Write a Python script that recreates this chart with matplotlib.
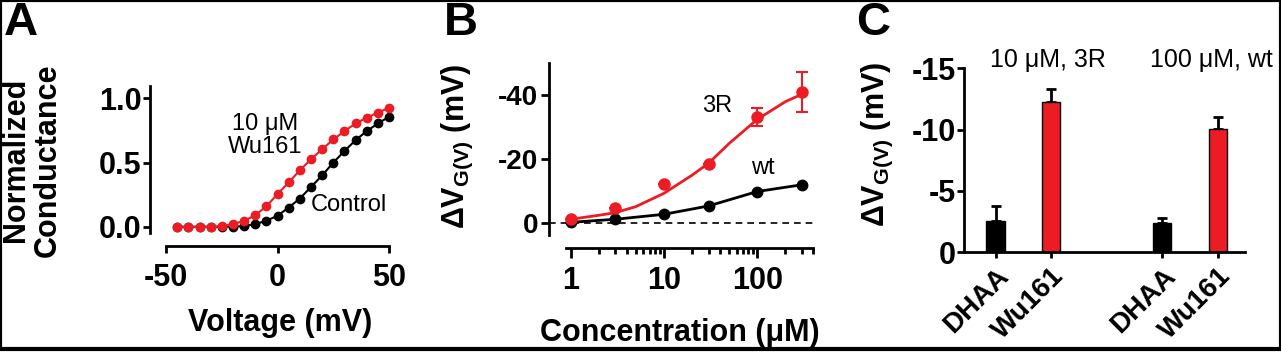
import numpy as np
import matplotlib.pyplot as plt
from matplotlib.patches import Rectangle
from matplotlib.ticker import NullFormatter

plt.rcParams['font.family'] = ['Liberation Sans', 'DejaVu Sans']
plt.rcParams['font.weight'] = 'bold'
plt.rcParams['axes.unicode_minus'] = False
plt.rcParams['mathtext.default'] = 'regular'

RED = '#ec1c24'

# panel A: normalized conductance vs voltage
voltage = np.arange(-45, 51, 5)
g_control = [0, 0, 0, 0, 0, 0, 0.005, 0.02, 0.047, 0.086, 0.15, 0.22, 0.31,
             0.40, 0.50, 0.59, 0.675, 0.745, 0.805, 0.857]
g_wu161 = [0, 0, 0, 0, 0.005, 0.02, 0.047, 0.09, 0.16, 0.255, 0.345, 0.44,
           0.525, 0.605, 0.68, 0.745, 0.805, 0.85, 0.89, 0.927]

# panel B: dose response
conc = [1, 3, 10, 30, 100, 300]
dv_3r = [-1.35, -4.9, -12.3, -18.4, -33.2, -41.0]
dv_3r_err = [0, 0, 0, 0, 2.8, 6.2]
dv_wt = [-0.3, -1.25, -2.8, -5.4, -9.9, -12.0]
conc_fit = [1, 2, 3, 5, 10, 20, 30, 50, 100, 200, 300]
fit_3r = [-1.25, -2.5, -3.3, -5.2, -9.35, -15.0, -18.7, -24.9, -32.4, -37.9, -40.2]

# panel C: bar chart
bar_labels = ['DHAA', 'Wu161', 'DHAA', 'Wu161']
bar_pos = [0, 1, 3, 4]
bar_vals = [-2.55, -12.28, -2.36, -10.03]
bar_err = [1.22, 1.0, 0.42, 1.03]
bar_colors = ['black', RED, 'black', RED]
group_titles = ['10 \u03bcM, 3R', '100 \u03bcM, wt']

W, H = 1281, 352
fig = plt.figure(figsize=(W / 100, H / 100), dpi=100)


def box(l, t, r, b):
    return [l / W, 1 - b / H, (r - l) / W, (b - t) / H]


def ftext(x, y, s, **kw):
    fig.text(x / W, 1 - y / H, s, ha='center', va='center', **kw)


def style(ax):
    for s in ['top', 'right']:
        ax.spines[s].set_visible(False)
    for s in ['left', 'bottom']:
        ax.spines[s].set_linewidth(2)


# ---- A ----
axA = fig.add_axes(box(150, 85.6, 393.5, 246))
style(axA)
axA.plot(voltage, g_control, '-o', color='black', ms=6, lw=1.5)
axA.plot(voltage, g_wu161, '-o', color=RED, ms=6, lw=1.5)
axA.set_xlim(-57.2, 52)
axA.set_ylim(-0.15, 1.1)
axA.spines['left'].set_bounds(-0.05, 1.1)
axA.spines['bottom'].set_bounds(-50, 50)
axA.set_xticks([-50, 0, 50])
axA.set_yticks([0, 0.5, 1.0])
axA.set_yticklabels(['0.0', '0.5', '1.0'])
axA.tick_params(axis='y', width=2, length=5, labelsize=22, pad=1)
axA.tick_params(axis='x', width=2, length=5, labelsize=22, pad=7)
axA.text(-5.6, 0.71, '10 \u03bcM\nWu161', fontsize=17, fontweight='normal',
         ha='center', va='center', linespacing=1.1)
axA.text(32, 0.17, 'Control', fontsize=17, fontweight='normal',
         ha='center', va='center')

ftext(280, 323, 'Voltage (mV)', fontsize=22)
ftext(32, 160, 'Normalized\nConductance', fontsize=22, rotation=90, linespacing=1.1)

# ---- B ----
axB = fig.add_axes(box(549, 61.2, 813.5, 248))
style(axB)
axB.set_xscale('log')
axB.axhline(0, color='black', lw=1.2, ls=(0, (4, 3)))
axB.plot(conc_fit, fit_3r, '-', color=RED, lw=2)
axB.errorbar(conc, dv_3r, yerr=dv_3r_err, fmt='o', color=RED, ms=8,
             capsize=4.5, elinewidth=1.5, capthick=1.5)
axB.plot(conc, dv_wt, '-o', color='black', ms=7.5, lw=2)
axB.set_xlim(0.585, 400)
axB.set_ylim(7.7, -50.5)
axB.spines['left'].set_bounds(-50, 3.7)
axB.spines['bottom'].set_bounds(0.9, 400)
axB.set_xticks([1, 10, 100])
axB.set_xticklabels(['1', '10', '100'])
minor = [m * d for d in (1, 10, 100) for m in range(2, 10) if m * d <= 400]
axB.set_xticks(minor, minor=True)
axB.xaxis.set_minor_formatter(NullFormatter())
axB.set_yticks([0, -20, -40])
axB.tick_params(axis='y', width=2, length=6, labelsize=20, pad=2)
axB.tick_params(axis='x', which='major', width=2, length=7, labelsize=22, pad=6)
axB.tick_params(axis='x', which='minor', width=2, length=4)
axB.text(0.636, 0.76, '3R', transform=axB.transAxes, fontsize=17,
         fontweight='normal', ha='center', va='center')
axB.text(0.81, 0.43, 'wt', transform=axB.transAxes, fontsize=17,
         fontweight='normal', ha='center', va='center')

ylab = r'$\Delta$V$_{\mathregular{G(V)}}$ (mV)'
ftext(680, 333, 'Concentration (\u03bcM)', fontsize=22)
ftext(457, 146, ylab, fontsize=22, rotation=90)

# ---- C ----
axC = fig.add_axes(box(964, 68.3, 1245, 252.3))
style(axC)
axC.errorbar(bar_pos, bar_vals, yerr=[bar_err, [0] * 4], fmt='none',
             ecolor='black', elinewidth=2, capsize=3.5, capthick=2, zorder=1)
axC.bar(bar_pos, bar_vals, width=0.33, color=bar_colors, edgecolor='black',
        lw=1, zorder=2)
axC.set_xlim(-0.567, 4.49)
axC.set_ylim(0, -15)
axC.set_yticks([0, -5, -10, -15])
axC.set_xticks(bar_pos)
axC.set_xticklabels(bar_labels, rotation=45, ha='right', rotation_mode='anchor')
axC.tick_params(axis='y', width=2, length=5, labelsize=22, pad=1)
axC.tick_params(axis='x', width=2, length=4, labelsize=20, pad=4)

ftext(1048, 60, group_titles[0], fontsize=18, fontweight='normal')
ftext(1211, 60, group_titles[1], fontsize=18, fontweight='normal')
ftext(877, 144, ylab, fontsize=22, rotation=90)

# panel letters
ftext(21, 23, 'A', fontsize=34)
ftext(461, 23, 'B', fontsize=34)
ftext(873, 23, 'C', fontsize=34)

fig.patches.append(Rectangle((0, 0.008), 1, 0.992, transform=fig.transFigure,
                             fill=False, ec='black', lw=3))

fig.savefig('out.png', dpi=100)
